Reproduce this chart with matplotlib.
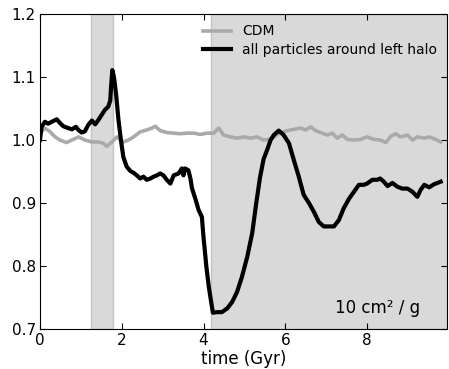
import matplotlib
matplotlib.use("Agg")
import matplotlib.pyplot as plt

# CDM curve
cdm_t = [0, 0.12, 0.25, 0.37, 0.49, 0.65, 0.78, 0.94, 1.10, 1.27, 1.43, 1.55, 1.63, 1.76, 1.88,
         2.04, 2.16, 2.29, 2.45, 2.61, 2.74, 2.82, 2.94, 3.10, 3.27, 3.43, 3.6, 3.76, 3.92, 4.09,
         4.25, 4.37, 4.49, 4.66, 4.82, 4.98, 5.15, 5.31, 5.47, 5.6, 5.72, 5.88, 6.05, 6.21, 6.37,
         6.50, 6.62, 6.74, 6.90, 7.03, 7.15, 7.27, 7.39, 7.52, 7.68, 7.84, 8.0, 8.17, 8.33, 8.46,
         8.58, 8.70, 8.82, 8.99, 9.11, 9.23, 9.40, 9.52, 9.68, 9.80]
cdm_v = [1.011, 1.019, 1.013, 1.005, 1.0, 0.996, 1.0, 1.005, 1.0, 0.997, 0.997, 0.995, 0.990, 0.997, 1.005,
         0.997, 1.0, 1.005, 1.013, 1.016, 1.019, 1.022, 1.015, 1.012, 1.011, 1.010, 1.011, 1.011, 1.009, 1.011,
         1.011, 1.019, 1.008, 1.005, 1.003, 1.005, 1.003, 1.005, 1.0, 1.001, 1.005, 1.012, 1.015, 1.017, 1.019,
         1.016, 1.021, 1.015, 1.011, 1.008, 1.011, 1.003, 1.008, 1.001, 1.0, 1.001, 1.005, 1.001, 1.0, 0.996,
         1.006, 1.010, 1.005, 1.008, 1.0, 1.005, 1.003, 1.005, 1.001, 0.997]

# all particles around left halo
sidm_t = [0, 0.04, 0.12, 0.2, 0.29, 0.41, 0.49, 0.57, 0.65, 0.78, 0.88, 0.94, 1.02, 1.10, 1.18,
          1.27, 1.35, 1.43, 1.51, 1.59, 1.67, 1.72, 1.74, 1.77, 1.81, 1.86, 1.92, 1.98, 2.04, 2.12,
          2.21, 2.29, 2.37, 2.45, 2.53, 2.61, 2.70, 2.78, 2.86, 2.94, 3.02, 3.10, 3.19, 3.27, 3.39,
          3.47, 3.51, 3.55, 3.63, 3.68, 3.72, 3.80, 3.88, 3.96, 4.00, 4.07, 4.13, 4.18, 4.23, 4.33,
          4.45, 4.58, 4.70, 4.82, 4.94, 5.07, 5.19, 5.29, 5.38, 5.47, 5.56, 5.64, 5.72, 5.84, 5.96,
          6.09, 6.21, 6.33, 6.45, 6.58, 6.70, 6.82, 6.94, 7.07, 7.19, 7.31, 7.43, 7.56, 7.68, 7.80,
          7.92, 8.0, 8.13, 8.25, 8.32, 8.41, 8.50, 8.62, 8.74, 8.86, 8.99, 9.11, 9.23, 9.31, 9.40,
          9.52, 9.64, 9.80]
sidm_v = [1.0, 1.021, 1.029, 1.026, 1.029, 1.033, 1.027, 1.022, 1.02, 1.017, 1.021, 1.016, 1.012, 1.014, 1.024,
          1.031, 1.025, 1.032, 1.04, 1.048, 1.053, 1.063, 1.085, 1.111, 1.10, 1.074, 1.032, 1.0, 0.973, 0.958,
          0.951, 0.948, 0.944, 0.939, 0.942, 0.937, 0.939, 0.942, 0.944, 0.947, 0.944, 0.937, 0.931, 0.944, 0.947,
          0.955, 0.944, 0.955, 0.952, 0.939, 0.923, 0.907, 0.889, 0.878, 0.846, 0.799, 0.767, 0.746, 0.726, 0.727,
          0.727, 0.733, 0.743, 0.759, 0.783, 0.815, 0.852, 0.900, 0.94, 0.970, 0.985, 1.0, 1.008, 1.015, 1.008,
          0.995, 0.968, 0.942, 0.913, 0.900, 0.886, 0.870, 0.863, 0.863, 0.863, 0.873, 0.892, 0.907, 0.918, 0.929,
          0.929, 0.931, 0.937, 0.937, 0.939, 0.934, 0.927, 0.932, 0.926, 0.923, 0.923, 0.918, 0.910, 0.921, 0.929,
          0.925, 0.930, 0.934]

bands = [(1.25, 1.78), (4.19, 10.5)]
x_ticks = [0, 2, 4, 6, 8]
y_ticks = [0.7, 0.8, 0.9, 1.0, 1.1, 1.2]

fig = plt.figure(figsize=(4.49, 3.69), dpi=100)
ax = fig.add_axes([0.089, 0.108, 0.907, 0.854])

for a, b in bands:
    ax.axvspan(a, b, facecolor='#d9d9d9', edgecolor='#c4c4c4', lw=1, zorder=0)

ax.plot(cdm_t, cdm_v, color='#aaaaaa', lw=2.6, label='CDM', zorder=2)
ax.plot(sidm_t, sidm_v, color='black', lw=3.0, label='all particles around left halo', zorder=3)

ax.set_xlim(0, 9.96)
ax.set_ylim(0.7, 1.2)
ax.set_xticks(x_ticks)
ax.set_xticklabels([str(t) for t in x_ticks])
ax.set_yticks(y_ticks)
ax.set_yticklabels(['%.1f' % t for t in y_ticks])
ax.tick_params(direction='in', top=True, right=True, length=4, width=0.8, labelsize=11, pad=3)
ax.set_xlabel('time (Gyr)', fontsize=12, labelpad=1)

ax.legend(loc='upper right', frameon=False, fontsize=10, handlelength=2.0,
          borderaxespad=0.35, labelspacing=0.35)
ax.text(0.934, 0.05, '10 cm\u00b2 / g', transform=ax.transAxes, ha='right', va='baseline', fontsize=12)

fig.savefig('out.png', dpi=100, facecolor='white')
